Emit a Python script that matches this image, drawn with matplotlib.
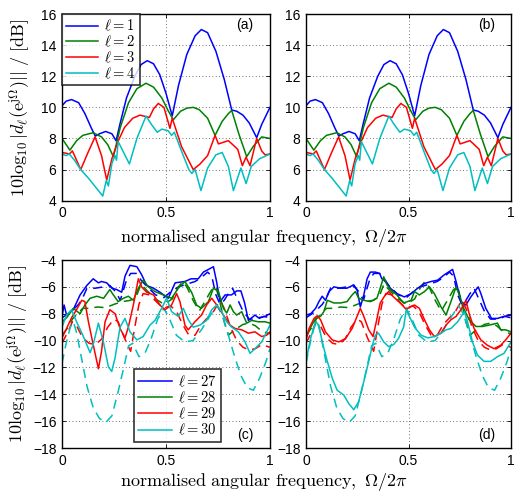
import matplotlib
matplotlib.use("Agg")
import matplotlib.pyplot as plt
import numpy as np

# %% values (x = normalised frequency, y = dB)
# top panels (a) and (b): l = 1..4
x1 = [0, 0.02, 0.046, 0.08, 0.11, 0.14, 0.16, 0.18, 0.21, 0.24, 0.26, 0.28, 0.31, 0.35, 0.38, 0.41,
      0.44, 0.47, 0.50, 0.53, 0.56, 0.60, 0.64, 0.67, 0.70, 0.74, 0.78, 0.816, 0.84, 0.87, 0.90, 0.936, 0.96, 1.0]
y1 = [10.1, 10.4, 10.5, 10.3, 9.6, 8.7, 8.15, 8.3, 8.45, 8.3, 7.85, 9.0, 10.6, 12.0, 12.75, 13.0,
      12.8, 12.1, 10.9, 9.45, 11.4, 13.4, 14.6, 15.0, 14.8, 13.6, 11.8, 9.83, 9.75, 9.5, 9.0, 8.05, 8.9, 10.0]

x2 = [0, 0.038, 0.07, 0.10, 0.15, 0.19, 0.22, 0.247, 0.28, 0.32, 0.36, 0.404, 0.44, 0.48, 0.51, 0.535,
      0.57, 0.60, 0.631, 0.66, 0.70, 0.736, 0.77, 0.80, 0.816, 0.85, 0.888, 0.92, 0.96, 1.0]
y2 = [8.0, 7.25, 7.85, 8.2, 8.37, 8.1, 7.6, 6.83, 8.7, 10.3, 11.2, 11.55, 11.3, 10.6, 9.8, 9.2,
      9.75, 9.95, 10.0, 9.85, 9.3, 8.2, 9.1, 9.6, 9.8, 8.3, 6.83, 7.5, 8.1, 8.0]

x3 = [0, 0.02, 0.035, 0.05, 0.09, 0.125, 0.159, 0.19, 0.215, 0.24, 0.269, 0.30, 0.34, 0.375, 0.42,
      0.44, 0.463, 0.49, 0.519, 0.53, 0.575, 0.631, 0.663, 0.70, 0.736, 0.752, 0.80, 0.845, 0.867,
      0.885, 0.904, 0.936, 0.96, 0.976, 1.0]
y3 = [7.1, 7.05, 7.0, 7.2, 6.0, 7.1, 8.1, 6.9, 5.33, 6.7, 7.8, 8.7, 9.3, 9.5, 9.35,
      9.9, 10.25, 10.0, 8.65, 9.3, 7.47, 6.0, 6.35, 6.9, 8.2, 7.65, 7.86, 7.3, 6.25,
      6.8, 6.25, 8.0, 7.2, 6.95, 7.0]

x4 = [0, 0.02, 0.035, 0.06, 0.09, 0.127, 0.16, 0.196, 0.213, 0.223, 0.24, 0.255, 0.262, 0.27, 0.30,
      0.324, 0.36, 0.404, 0.43, 0.458, 0.48, 0.51, 0.527, 0.54, 0.58, 0.61, 0.624, 0.64, 0.668, 0.70,
      0.74, 0.77, 0.80, 0.824, 0.86, 0.885, 0.91, 0.95, 1.0]
y4 = [7.0, 6.9, 7.0, 6.6, 6.0, 5.45, 4.9, 4.3, 5.3, 4.95, 6.4, 6.9, 6.6, 7.8, 7.0,
      6.36, 8.0, 9.44, 8.9, 8.4, 8.6, 8.5, 8.2, 8.4, 7.0, 6.0, 5.75, 6.0, 4.65, 6.1,
      6.95, 7.1, 6.2, 4.65, 6.1, 5.1, 6.2, 6.7, 7.0]

# bottom panels: dashed curves (same in (c) and (d))
xd27 = [0, 0.03, 0.06, 0.08, 0.10, 0.12, 0.16, 0.20, 0.23, 0.26, 0.28, 0.31, 0.33, 0.36, 0.38, 0.41,
        0.45, 0.49, 0.52, 0.56, 0.60, 0.64, 0.67, 0.70, 0.72, 0.74, 0.76, 0.78, 0.80, 0.82, 0.84,
        0.87, 0.90, 0.94, 0.97, 1.0]
yd27 = [-8.3, -8.0, -7.6, -7.3, -6.8, -6.1, -6.1, -6.0, -5.9, -6.4, -7.0, -5.5, -5.0, -5.0, -5.5, -6.0,
        -6.6, -6.8, -6.4, -6.0, -5.8, -5.6, -5.3, -4.9, -5.2, -6.6, -7.3, -7.0, -6.5, -6.1, -6.8,
        -7.8, -8.4, -8.4, -8.2, -8.3]
xd28 = [0, 0.03, 0.05, 0.08, 0.10, 0.13, 0.17, 0.21, 0.25, 0.29, 0.33, 0.36, 0.38, 0.41, 0.45, 0.49,
        0.53, 0.56, 0.58, 0.60, 0.63, 0.66, 0.69, 0.72, 0.74, 0.76, 0.78, 0.80, 0.83, 0.87, 0.90,
        0.93, 0.96, 1.0]
yd28 = [-9.6, -9.0, -8.4, -7.9, -7.6, -7.6, -7.5, -7.55, -7.3, -7.1, -7.0, -6.6, -5.8, -6.3, -6.9, -7.3,
        -6.9, -6.0, -5.6, -6.0, -7.0, -7.8, -7.0, -6.2, -6.0, -7.2, -8.6, -9.6, -9.2, -8.8, -8.7,
        -8.9, -9.3, -9.5]
xd29 = [0, 0.03, 0.05, 0.07, 0.10, 0.13, 0.16, 0.19, 0.22, 0.25, 0.27, 0.30, 0.33, 0.35, 0.37, 0.39,
        0.42, 0.46, 0.49, 0.52, 0.55, 0.58, 0.61, 0.64, 0.67, 0.70, 0.73, 0.76, 0.78, 0.81, 0.84,
        0.87, 0.90, 0.93, 0.96, 1.0]
yd29 = [-10.2, -9.3, -8.6, -8.9, -9.8, -10.2, -10.3, -9.9, -9.0, -8.4, -8.6, -9.8, -10.8, -9.0, -7.3, -6.5,
        -6.6, -7.2, -7.6, -7.4, -7.8, -8.8, -9.6, -9.6, -8.8, -8.3, -7.8, -7.0, -7.6, -9.0, -10.0,
        -10.5, -10.7, -10.6, -10.3, -10.5]
xd30 = [0, 0.02, 0.04, 0.055, 0.07, 0.09, 0.12, 0.15, 0.18, 0.21, 0.24, 0.27, 0.30, 0.32, 0.34, 0.37,
        0.40, 0.43, 0.46, 0.49, 0.52, 0.55, 0.59, 0.63, 0.67, 0.71, 0.745, 0.77, 0.80, 0.83, 0.86,
        0.89, 0.92, 0.95, 0.98, 1.0]
yd30 = [-11.7, -10.2, -9.0, -8.6, -9.4, -11.0, -13.4, -15.0, -15.8, -16.1, -15.6, -13.8, -11.8, -10.4, -10.2, -11.2,
        -10.9, -9.8, -8.4, -7.6, -8.5, -9.6, -10.1, -10.0, -9.2, -8.2, -7.4, -8.1, -9.6, -11.2, -12.6,
        -13.5, -13.7, -12.8, -11.6, -10.6]

# panel (c) solid curves
xc27 = [0, 0.01, 0.022, 0.054, 0.087, 0.119, 0.15, 0.175, 0.19, 0.215, 0.24, 0.263, 0.287, 0.303, 0.327,
        0.36, 0.383, 0.407, 0.44, 0.471, 0.511, 0.544, 0.591, 0.62, 0.655, 0.68, 0.704, 0.728, 0.743,
        0.76, 0.784, 0.815, 0.84, 0.86, 0.878, 0.896, 0.928, 0.944, 0.976, 1.0]
yc27 = [-8.2, -7.35, -8.1, -7.7, -6.6, -5.9, -5.4, -5.7, -5.6, -5.7, -6.1, -6.2, -6.4, -5.2, -4.4,
        -4.5, -5.1, -5.9, -6.1, -6.4, -6.85, -5.7, -5.6, -5.4, -5.4, -4.9, -4.7, -4.5, -5.6,
        -7.1, -6.6, -6.6, -6.3, -6.3, -7.2, -8.5, -8.1, -8.3, -8.2, -8.0]
xc28 = [0, 0.022, 0.054, 0.087, 0.11, 0.135, 0.167, 0.2, 0.23, 0.247, 0.27, 0.295, 0.319, 0.343, 0.367,
        0.391, 0.415, 0.447, 0.487, 0.527, 0.559, 0.591, 0.623, 0.647, 0.67, 0.704, 0.728, 0.752, 0.776,
        0.792, 0.808, 0.824, 0.84, 0.864, 0.888, 0.912, 0.944, 0.976, 1.0]
yc28 = [-8.6, -8.3, -7.6, -8.0, -7.35, -6.85, -6.7, -6.85, -6.2, -6.6, -7.1, -6.85, -6.7, -7.0, -6.1,
        -5.5, -6.0, -6.35, -6.6, -6.85, -6.1, -5.6, -6.4, -7.35, -7.6, -7.1, -6.1, -6.35, -7.6,
        -7.95, -7.35, -7.85, -8.1, -7.85, -8.7, -8.5, -8.6, -8.6, -8.7]
xc29 = [0, 0.022, 0.046, 0.07, 0.095, 0.11, 0.127, 0.15, 0.175, 0.19, 0.207, 0.23, 0.255, 0.279, 0.303,
        0.319, 0.343, 0.367, 0.383, 0.407, 0.44, 0.47, 0.495, 0.527, 0.551, 0.567, 0.591, 0.607, 0.639,
        0.671, 0.695, 0.72, 0.744, 0.776, 0.808, 0.832, 0.864, 0.896, 0.928, 0.96, 0.984, 1.0]
yc29 = [-9.8, -9.1, -8.3, -7.7, -7.0, -7.1, -8.6, -10.3, -12.1, -10.8, -8.6, -7.7, -8.0, -9.1, -9.8,
        -9.0, -7.35, -5.4, -6.0, -6.4, -6.6, -7.35, -7.7, -7.35, -6.5, -7.1, -8.85, -9.2, -8.6,
        -8.1, -7.35, -6.85, -7.35, -8.1, -8.85, -9.1, -9.2, -9.45, -9.35, -9.7, -9.6, -9.35]
xc30 = [0, 0.022, 0.046, 0.07, 0.103, 0.135, 0.15, 0.175, 0.199, 0.223, 0.239, 0.255, 0.279, 0.303, 0.327,
        0.36, 0.39, 0.423, 0.447, 0.479, 0.503, 0.527, 0.559, 0.583, 0.607, 0.631, 0.663, 0.695, 0.72,
        0.744, 0.768, 0.792, 0.816, 0.848, 0.88, 0.904, 0.928, 0.96, 0.984, 1.0]
yc30 = [-9.0, -8.1, -7.7, -8.6, -9.7, -10.9, -10.3, -8.7, -10.1, -11.95, -12.3, -11.3, -9.0, -8.35, -9.35,
        -9.95, -9.7, -8.85, -8.5, -7.6, -6.85, -7.85, -8.2, -7.6, -8.45, -9.0, -8.85, -8.5, -7.7,
        -7.35, -7.85, -8.6, -9.0, -9.35, -10.1, -10.95, -10.6, -10.1, -9.35, -8.85]

# panel (d) solid curves
xe27 = [0, 0.023, 0.047, 0.063, 0.079, 0.095, 0.112, 0.136, 0.168, 0.2, 0.233, 0.249, 0.265, 0.282, 0.298,
        0.314, 0.338, 0.359, 0.37, 0.387, 0.411, 0.443, 0.48, 0.513, 0.545, 0.578, 0.61, 0.642, 0.675,
        0.715, 0.732, 0.756, 0.78, 0.804, 0.84, 0.853, 0.877, 0.905, 0.934, 0.966, 1.0]
ye27 = [-8.1, -8.0, -7.6, -7.1, -6.7, -7.0, -6.35, -6.0, -6.1, -6.1, -5.85, -6.2, -7.5, -6.6, -5.4,
        -4.9, -4.9, -5.0, -5.4, -5.5, -6.1, -6.5, -6.75, -6.5, -6.1, -5.75, -5.6, -5.5, -5.1,
        -4.7, -5.6, -7.1, -7.35, -6.75, -6.0, -6.5, -7.6, -8.35, -8.35, -8.2, -8.1]
xe28 = [0, 0.023, 0.047, 0.071, 0.087, 0.104, 0.136, 0.168, 0.2, 0.225, 0.241, 0.257, 0.282, 0.314, 0.346,
        0.362, 0.379, 0.395, 0.411, 0.443, 0.476, 0.513, 0.529, 0.553, 0.578, 0.602, 0.626, 0.659, 0.683,
        0.707, 0.732, 0.748, 0.772, 0.796, 0.829, 0.861, 0.893, 0.934, 0.95, 0.974, 1.0]
ye28 = [-9.8, -9.0, -8.35, -8.2, -7.85, -7.0, -7.2, -7.2, -7.1, -6.6, -6.35, -6.85, -7.0, -7.1, -6.85,
        -6.1, -5.25, -5.85, -6.2, -6.6, -7.2, -7.0, -6.35, -6.6, -6.35, -6.0, -6.5, -7.5, -8.1,
        -7.1, -6.0, -6.6, -7.7, -8.45, -8.95, -8.95, -8.85, -8.7, -9.2, -9.2, -9.35]
xe29 = [0, 0.015, 0.039, 0.055, 0.071, 0.095, 0.128, 0.16, 0.193, 0.225, 0.249, 0.265, 0.282, 0.306, 0.327,
        0.343, 0.362, 0.387, 0.403, 0.427, 0.46, 0.484, 0.497, 0.529, 0.553, 0.578, 0.602, 0.626, 0.659,
        0.683, 0.707, 0.732, 0.756, 0.78, 0.796, 0.82, 0.853, 0.885, 0.917, 0.95, 0.974, 1.0]
ye29 = [-9.95, -9.1, -8.35, -8.15, -8.45, -9.35, -9.95, -10.1, -9.85, -9.1, -8.2, -7.6, -8.2, -9.2, -9.7,
        -8.6, -7.2, -6.6, -6.35, -6.75, -7.2, -7.6, -7.6, -7.35, -7.6, -8.45, -9.2, -9.7, -9.45,
        -8.85, -8.45, -8.2, -7.7, -7.0, -8.0, -9.1, -9.95, -10.35, -10.6, -10.35, -9.95, -9.45]
xe30 = [0, 0.023, 0.047, 0.063, 0.079, 0.104, 0.128, 0.152, 0.184, 0.209, 0.233, 0.257, 0.282, 0.306, 0.322,
        0.338, 0.354, 0.379, 0.403, 0.427, 0.451, 0.476, 0.489, 0.529, 0.561, 0.594, 0.626, 0.659, 0.683,
        0.707, 0.74, 0.772, 0.788, 0.812, 0.837, 0.869, 0.901, 0.934, 0.966, 1.0]
ye30 = [-11.55, -9.8, -8.6, -8.85, -10.1, -11.55, -12.8, -13.7, -14.05, -14.7, -15.15, -14.55, -13.05, -11.55, -10.45,
        -9.6, -9.45, -10.1, -10.45, -10.3, -9.85, -9.0, -7.7, -9.0, -9.6, -9.8, -9.7, -9.45, -9.2,
        -9.1, -8.6, -7.85, -8.6, -10.1, -11.1, -11.55, -11.55, -11.2, -10.95, -10.1]

colors = ['#0000ff', '#008000', '#ff0000', '#00bfbf']
top_labels = [r'$\ell = 1$', r'$\ell = 2$', r'$\ell = 3$', r'$\ell = 4$']
bot_labels = [r'$\ell = 27$', r'$\ell = 28$', r'$\ell = 29$', r'$\ell = 30$']

top_x = [x1, x2, x3, x4]
top_y = [y1, y2, y3, y4]
dash_x = [xd27, xd28, xd29, xd30]
dash_y = [yd27, yd28, yd29, yd30]
c_x = [xc27, xc28, xc29, xc30]
c_y = [yc27, yc28, yc29, yc30]
d_x = [xe27, xe28, xe29, xe30]
d_y = [ye27, ye28, ye29, ye30]

# %% figure
plt.rcParams['mathtext.fontset'] = 'cm'
plt.rcParams['font.family'] = 'Liberation Sans'

fig = plt.figure(figsize=(5.14, 4.95), dpi=100)
W, H = 514.0, 495.0
def add_ax(x0, x1_, ytop, ybot):
    return fig.add_axes([x0 / W, 1 - ybot / H, (x1_ - x0) / W, (ybot - ytop) / H])

ax_a = add_ax(62, 270, 14, 200.7)
ax_b = add_ax(306, 511, 14, 200.7)
ax_c = add_ax(62, 270, 260, 448)
ax_d = add_ax(306, 511, 260, 448)

ylab = r'$10\log_{10}|d_\ell(\mathrm{e}^{\mathrm{j}\Omega})||\ /\ [\mathrm{dB}]$'
xlab = r'$\mathrm{normalised\ angular\ frequency,}\ \Omega/2\pi$'

def style(ax, ylim, yticks):
    ax.set_xlim(0, 1)
    ax.set_ylim(*ylim)
    ax.set_xticks([0, 0.5, 1])
    ax.set_xticklabels(['0', '0.5', '1'])
    ax.set_yticks(yticks)
    ax.tick_params(direction='in', top=True, right=True, labelsize=10, length=3, width=0.6, pad=4)
    ax.grid(True, linestyle=(0, (1, 3)), color='#444444', linewidth=0.6)
    for s in ax.spines.values():
        s.set_linewidth(1.0)

for ax in (ax_a, ax_b):
    for xs, ys, col, lab in zip(top_x, top_y, colors, top_labels):
        ax.plot(xs, ys, color=col, lw=1.1, label=lab)
    style(ax, (4, 16), range(4, 17, 2))

for ax, sx, sy in ((ax_c, c_x, c_y), (ax_d, d_x, d_y)):
    for xs, ys, col in zip(dash_x, dash_y, colors):
        ax.plot(xs, ys, color=col, lw=1.1, dashes=(6, 4))
    for xs, ys, col, lab in zip(sx, sy, colors, bot_labels):
        ax.plot(xs, ys, color=col, lw=1.1, label=lab)
    style(ax, (-18, -4), range(-18, -3, 2))

leg = ax_a.legend(loc='upper left', fontsize=10.5, frameon=True, fancybox=False, borderaxespad=0.0,
                  handlelength=2.2, labelspacing=0.02, borderpad=0.3, handletextpad=0.4)
leg.get_frame().set_edgecolor('black')
leg.get_frame().set_linewidth(1.2)

leg = ax_c.legend(loc='lower left', bbox_to_anchor=(0.346, 0.032), fontsize=10.5, frameon=True,
                  fancybox=False, borderaxespad=0.0, handlelength=2.3, labelspacing=0.05,
                  borderpad=0.3, handletextpad=0.4)
leg.get_frame().set_edgecolor('black')
leg.get_frame().set_linewidth(1.2)

for ax, t, yy in ((ax_a, '(a)', 0.94), (ax_b, '(b)', 0.94), (ax_c, '(c)', 0.07), (ax_d, '(d)', 0.07)):
    ax.text(0.88, yy, t, transform=ax.transAxes, fontsize=10, ha='center', va='center')

ax_a.set_ylabel(ylab, fontsize=13, labelpad=6)
ax_c.set_ylabel(ylab, fontsize=13, labelpad=1)
fig.text(264 / W, 1 - 238 / H, xlab, fontsize=13, ha='center', va='center')
fig.text(264 / W, 1 - 482 / H, xlab, fontsize=13, ha='center', va='center')

fig.savefig('out.png', dpi=100)
